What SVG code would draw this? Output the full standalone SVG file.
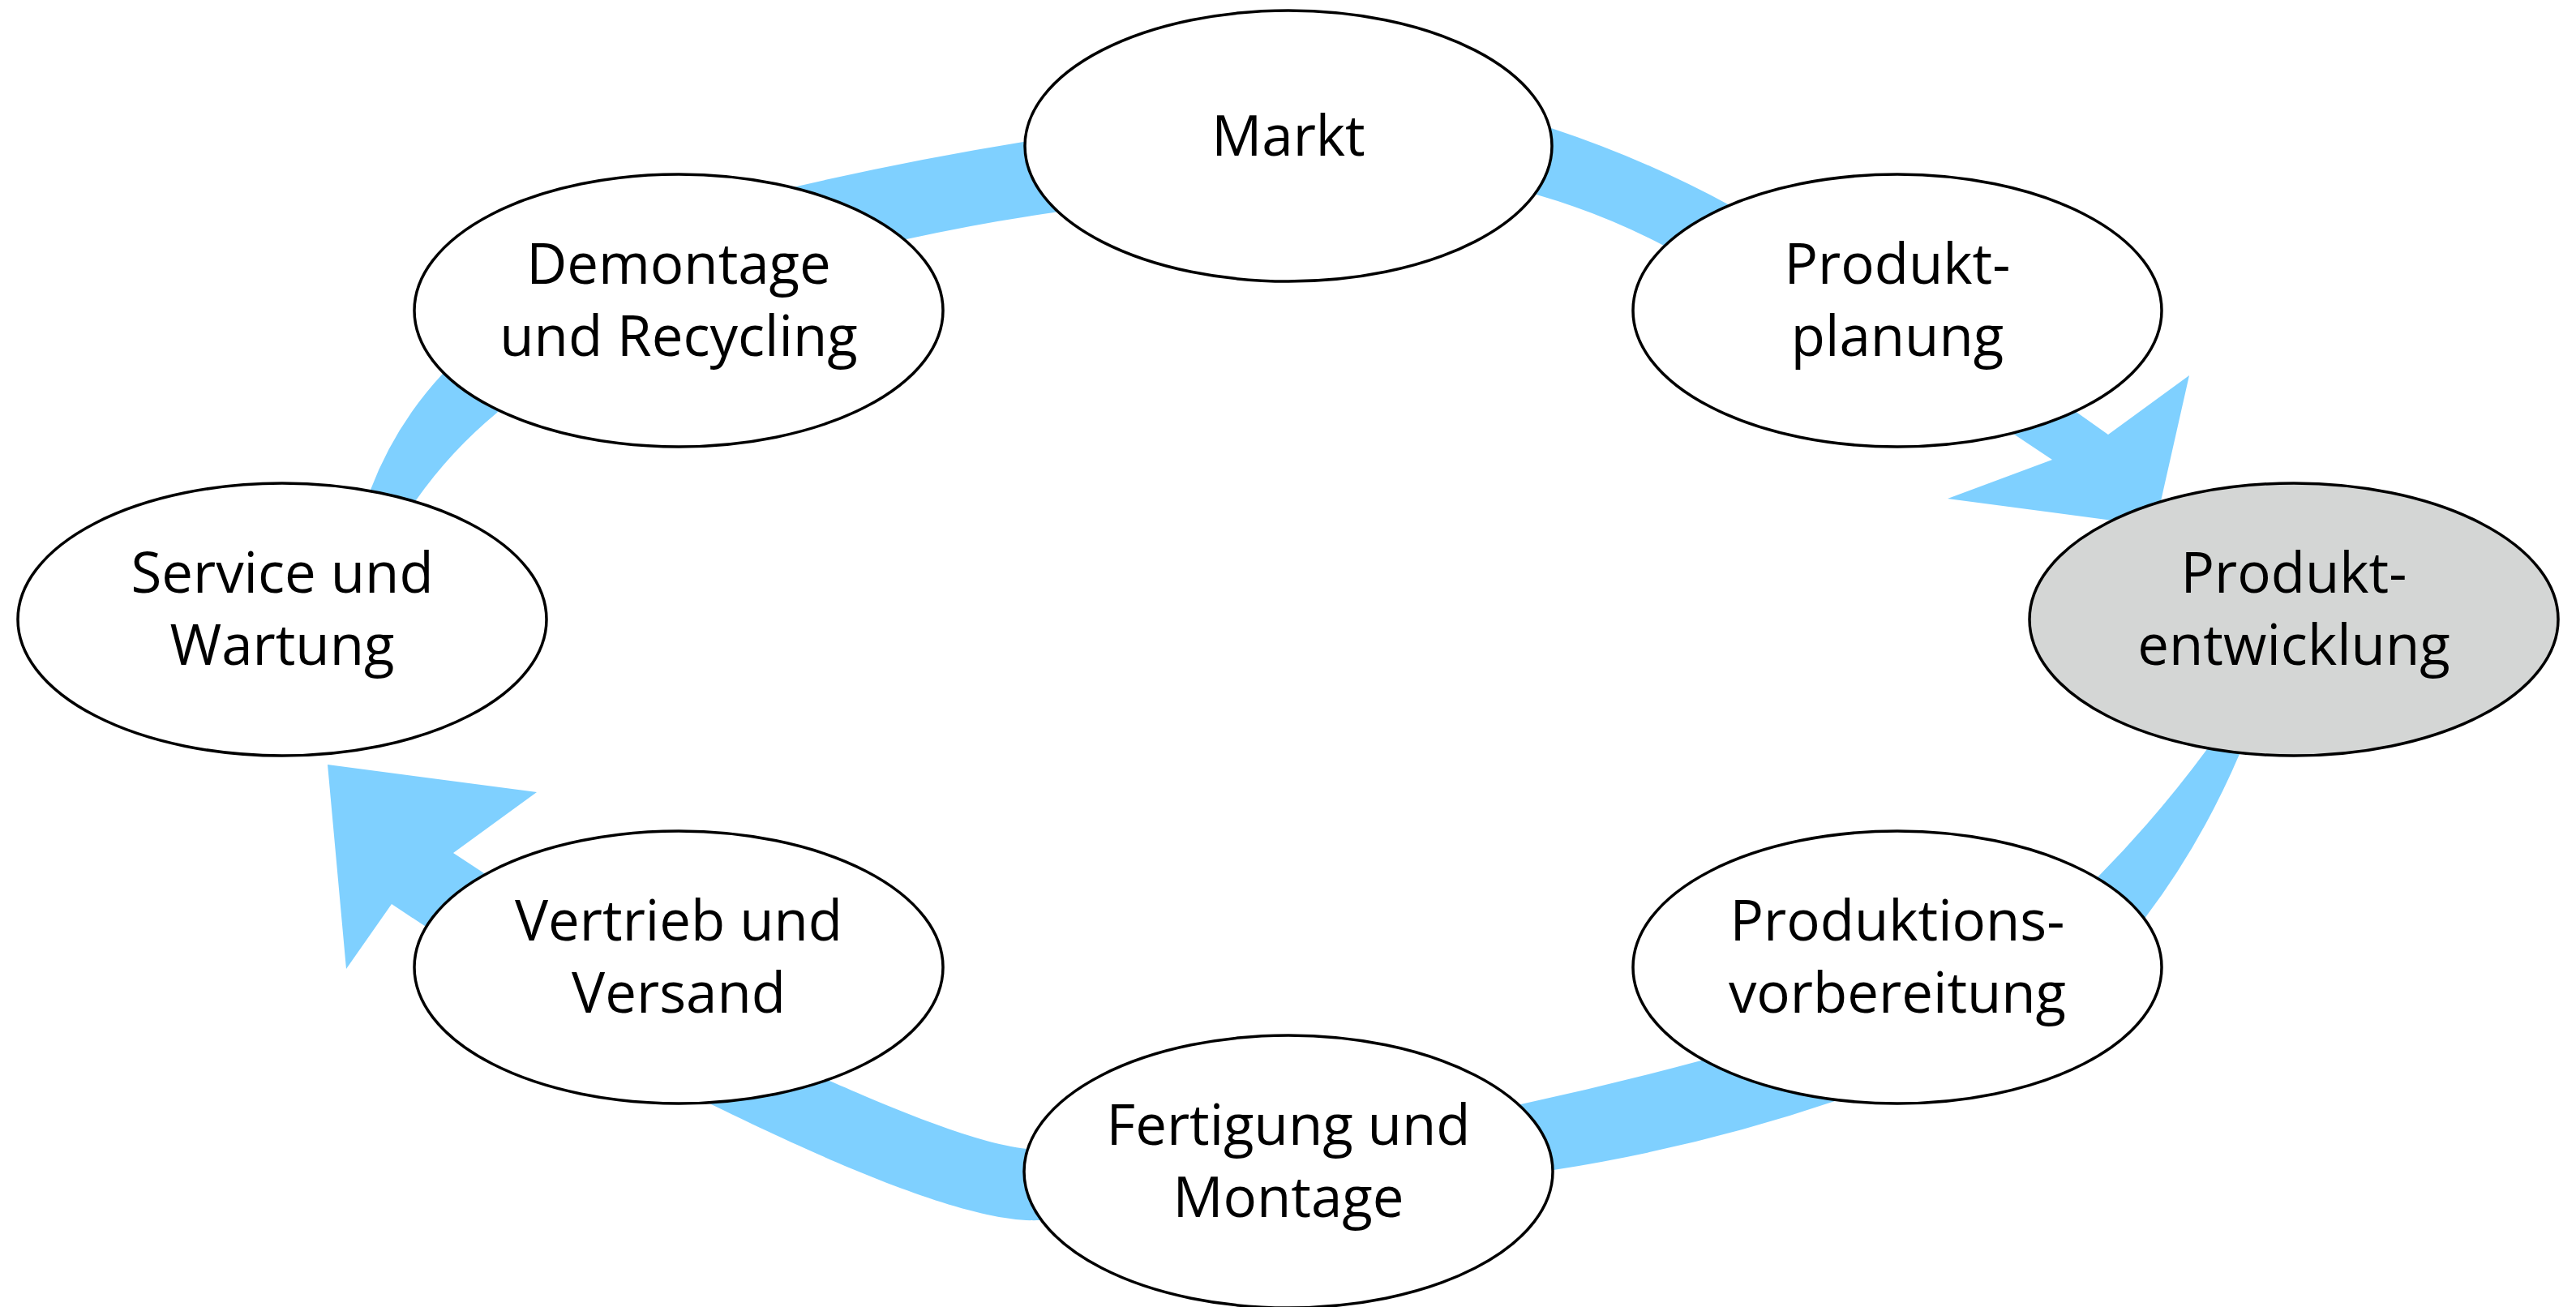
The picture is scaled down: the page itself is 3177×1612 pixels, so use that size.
<svg xmlns="http://www.w3.org/2000/svg" width="3177" height="1612" viewBox="0 0 3177 1612">
<style>
.band{fill:#7fd0ff;stroke:none}
.node{fill:#ffffff;stroke:#000000;stroke-width:3.5}
.hl{fill:#d4d6d5}
.lbl{font-family:"Open Sans","Noto Sans","Liberation Sans",sans-serif;font-size:69px;fill:#000000;text-anchor:middle}
</style>
<rect x="0" y="0" width="3177" height="1612" fill="#ffffff"/>
<g id="connectors">
<path id="c-service-demontage" class="band" d="M430,660 L457,604 Q487,525 545,462 L600,395 L660,450 L613,509 Q556,556 513,617 L490,660 Z"/>
<path id="c-demontage-markt" class="band" d="M900,250 L978,231 Q1120,198 1262,175 L1330,165 L1360,250 L1300,262 Q1208,275 1118,295 L1060,310 Z"/>
<path id="c-markt-planung" class="band" d="M1850,135 L1913,158 Q2028,196 2133,253 L2200,300 L2120,340 L2052,303 Q1978,264 1895,240 L1840,222 Z"/>
<path id="c-planung-entwicklung" class="band" d="M2497,463 L2600,536 L2700,463 L2658,649 L2402,615 L2531,567 L2417,491 Z"/>
<path id="c-entwicklung-vorbereitung" class="band" d="M2790,870 L2762,930 Q2715,1040 2647,1130 L2610,1185 L2550,1125 L2587,1082 Q2660,1008 2722,924 L2760,870 Z"/>
<path id="c-vorbereitung-fertigung" class="band" d="M2310,1320 L2263,1358 Q2095,1415 1916,1443 L1850,1460 L1830,1372 L1880,1361 Q1990,1337 2098,1308 L2160,1290 Z"/>
<path id="c-fertigung-vertrieb" class="band" d="M1340,1505 L1282,1505 C1180,1510 960,1402 875,1361 L820,1330 L980,1310 L1023,1333 C1090,1362 1200,1410 1267,1417 L1330,1420 Z"/>
<path id="c-vertrieb-service" class="band" d="M664,1121 L559,1052 L662,977 L404,943 L427,1195 L483,1115 L590,1186 Z"/>
</g>
<g id="node-markt">
<ellipse class="node" cx="1589" cy="180" rx="325" ry="167"/>
<text class="lbl" x="1589" y="192">Markt</text>
</g>
<g id="node-produktplanung">
<ellipse class="node" cx="2340" cy="383" rx="326" ry="168"/>
<text class="lbl" x="2340" y="350">Produkt-</text>
<text class="lbl" x="2340" y="439">planung</text>
</g>
<g id="node-produktentwicklung">
<ellipse class="node hl" cx="2829" cy="764" rx="326" ry="168"/>
<text class="lbl" x="2829" y="731">Produkt-</text>
<text class="lbl" x="2829" y="820">entwicklung</text>
</g>
<g id="node-produktionsvorbereitung">
<ellipse class="node" cx="2340" cy="1193" rx="326" ry="168"/>
<text class="lbl" x="2340" y="1160">Produktions-</text>
<text class="lbl" x="2340" y="1249">vorbereitung</text>
</g>
<g id="node-fertigung">
<ellipse class="node" cx="1589" cy="1445" rx="326" ry="168"/>
<text class="lbl" x="1589" y="1412">Fertigung und</text>
<text class="lbl" x="1589" y="1501">Montage</text>
</g>
<g id="node-vertrieb">
<ellipse class="node" cx="837" cy="1193" rx="326" ry="168"/>
<text class="lbl" x="837" y="1160">Vertrieb und</text>
<text class="lbl" x="837" y="1249">Versand</text>
</g>
<g id="node-service">
<ellipse class="node" cx="348" cy="764" rx="326" ry="168"/>
<text class="lbl" x="348" y="731">Service und</text>
<text class="lbl" x="348" y="820">Wartung</text>
</g>
<g id="node-demontage">
<ellipse class="node" cx="837" cy="383" rx="326" ry="168"/>
<text class="lbl" x="837" y="350">Demontage</text>
<text class="lbl" x="837" y="439">und Recycling</text>
</g>
</svg>
